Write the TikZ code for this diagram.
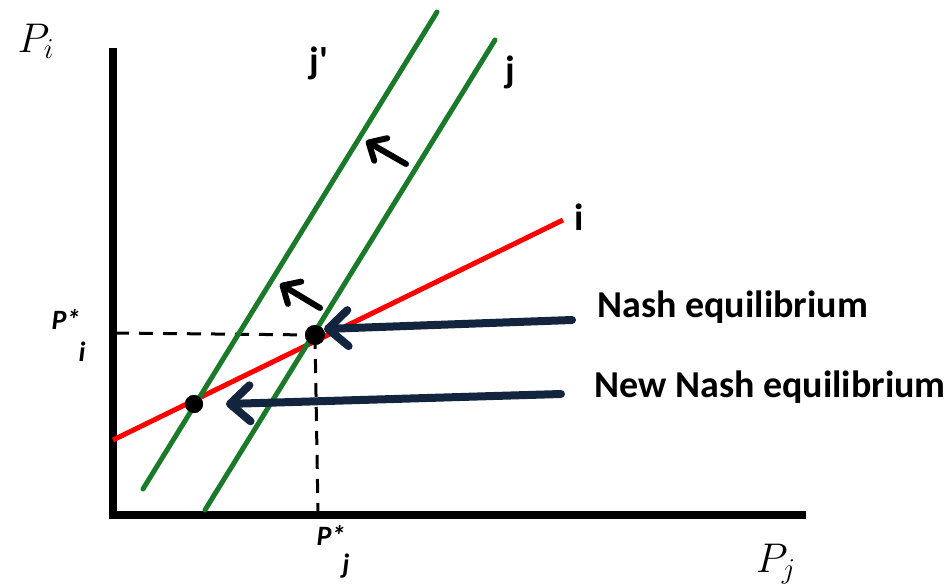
\documentclass[tikz,border=0pt]{standalone}
\usepackage{fontspec}
\newfontfamily\calib{Carlito}
\usetikzlibrary{arrows.meta}
\definecolor{grn}{HTML}{1A7A2A}
\definecolor{navy}{HTML}{13243F}
\tikzset{
  axis/.style={line width=4pt},
  green line/.style={grn, line width=2.5pt, line cap=round},
  red line/.style={red, line width=2.5pt},
  guide/.style={line width=1.5pt, dash pattern=on 7pt off 5pt},
  navy arrow/.style={navy, line width=4pt, line cap=round, line join=round,
    -{Straight Barb[length=10pt,width=18pt,line cap=round,line join=round]}},
  shift arrow/.style={line width=3pt, line cap=round, line join=round,
    -{Straight Barb[length=7pt,width=13pt,line cap=round,line join=round]}},
  lbl/.style={font=\calib\bfseries\fontsize{19}{22}\selectfont, inner sep=0pt},
  star/.style={font=\calib\bfseries\itshape\fontsize{14}{16}\selectfont, inner sep=0pt},
  dot/.style={circle, fill=black, inner sep=0pt, minimum size=#1},
}
\begin{document}
\begin{tikzpicture}[x=0.5pt,y=-0.5pt]
\useasboundingbox (0,0) rectangle (952,588);
% axes
\coordinate (ytop) at (113,48);
\coordinate (ybot) at (113,519);
\coordinate (xbeg) at (109,515);
\coordinate (xend) at (806,515);
\draw[axis] (ytop) -- (ybot);
\draw[axis] (xbeg) -- (xend);
% green lines
\coordinate (jpA) at (143,489);
\coordinate (jpB) at (437,12);
\coordinate (jA) at (205,510);
\coordinate (jB) at (495,40);
% red line
\coordinate (iA) at (113,440);
\coordinate (iB) at (563,220);
% equilibria
\node[dot=10pt] (ne) at (315,335) {};
\node[dot=9pt] (nne) at (194,404) {};
% dashed guides
\coordinate (pi) at (115,333);
\coordinate (pj) at (318,513);
\draw[guide] (pi) -- (ne.center);
\draw[guide] (ne.center) -- (pj);
\draw[red line] (iA) -- (iB);
\draw[green line] (jpA) -- (jpB);
\draw[green line] (jA) -- (jB);
\fill (ne) circle[radius=5pt];
\fill (nne) circle[radius=4.5pt];
% labels
\node[lbl] (ljp) at (319,63) {j'};
\node[lbl] (lj) at (510,72) {j};
\node[lbl] (li) at (579,217) {i};
\node[lbl, anchor=west] (lne) at (597,307) {Nash equilibrium};
\node[lbl, anchor=west] (lnne) at (594,387) {New Nash equilibrium};
% navy arrows
\coordinate (t1) at (572,320);
\coordinate (t2) at (561,394);
\draw[navy arrow] (t1) -- (324,329);
\draw[navy arrow] (t2) -- (226,404);
% shift arrows
\coordinate (s1a) at (406,164);
\coordinate (s1b) at (366,141);
\coordinate (s2a) at (320,308);
\coordinate (s2b) at (280,284);
\draw[shift arrow] (s1a) -- (s1b);
\draw[shift arrow] (s2a) -- (s2b);
% axis labels
\node[inner sep=0pt, font=\fontsize{22}{26}\selectfont] (Pi) at (36,41) {$P_i$};
\node[inner sep=0pt, font=\fontsize{22}{26}\selectfont] (Pj) at (776,564) {$P_j$};
\node[star] (psi) at (66,319) {P*};
\node[star] (psii) at (82,352) {i};
\node[star] (psj) at (331,535) {P*};
\node[star] (psjj) at (346,566) {j};
\end{tikzpicture}
\end{document}
